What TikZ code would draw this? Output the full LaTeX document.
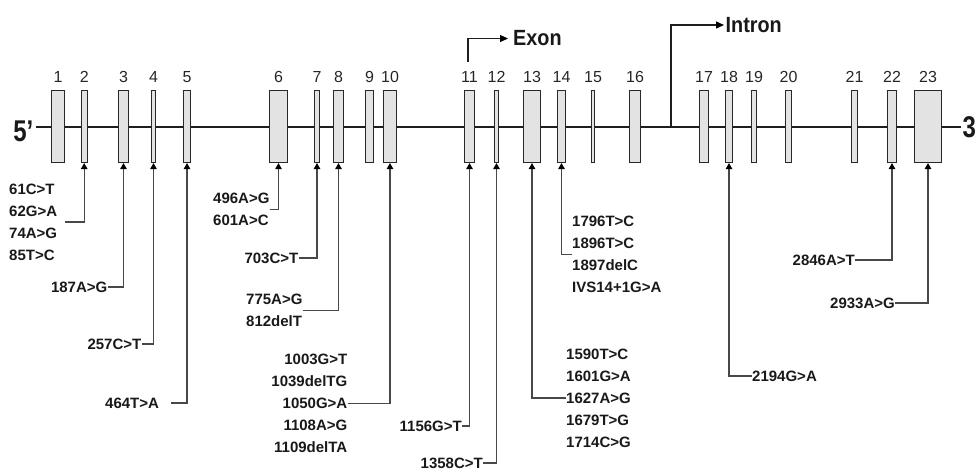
\documentclass[tikz,border=0pt]{standalone}
\usepackage{fontspec}
\usepackage{graphicx}
\setmainfont{Liberation Sans}
\usetikzlibrary{arrows.meta}
\definecolor{exonfill}{RGB}{226,227,226}
\definecolor{exonedge}{RGB}{40,40,40}
\definecolor{connc}{RGB}{72,72,72}
\definecolor{linec}{RGB}{30,30,30}
\tikzset{
  exonbox/.style={draw=exonedge, line width=1.1pt, fill=exonfill, rectangle, inner sep=0pt, minimum height=72pt},
  numlabel/.style={font=\fontsize{16}{16}\selectfont, inner sep=0pt, text=black!85},
  mutlabel/.style={font=\bfseries\fontsize{15}{22}\selectfont, inner sep=0pt, text=black!90},
  endlabel/.style={font=\bfseries\fontsize{30}{30}\selectfont, inner sep=0pt, text=black!90},
  biglabel/.style={font=\bfseries\fontsize{22}{22}\selectfont, inner sep=0pt, text=black!90},
  mainline/.style={draw=linec, line width=1.3pt},
  conn/.style={draw=connc, line width=1.2pt, -{Triangle[length=6pt,width=6.5pt,color=black]}},
  callout/.style={draw=linec, line width=1.3pt, -{Triangle[length=8pt,width=7pt,color=black]}}
}
\begin{document}
\begin{tikzpicture}[x=1pt,y=-1pt]
\useasboundingbox (0,0) rectangle (979,475);
% main gene line
\coordinate (L5) at (36,127);
\coordinate (L3) at (961,127);
\draw[mainline] (L5) -- (L3);
\node[endlabel, anchor=east] (five) at (33.5,131.5) {\scalebox{0.8}[1]{5’}};
\node[endlabel, anchor=west] (three) at (962.5,127) {\scalebox{0.8}[1]{3}};
% exons
\foreach \n/\x/\w in {1/58/13.5, 2/84.2/5.8, 3/123.5/10.5, 4/153.5/4.8, 5/187/7.5,
  6/278.5/18.5, 7/317/5.5, 8/338.5/10.5, 9/369.5/8.5, 10/390/13.5,
  11/469.5/10.5, 12/496.5/4.5, 13/532/17.5, 14/561.5/8.5, 15/593/3.8,
  16/635/11.5, 17/704/9.5, 18/729/7.5, 19/754/5.5, 20/788.5/6.5,
  21/854.5/6.5, 22/892/9.5, 23/928/27.5}{
  \node[exonbox, minimum width=\w*1pt] (e\n) at (\x,126.5) {};
  \node[numlabel] (n\n) at (\x,77) {\n};
}
% Exon / Intron callouts
\coordinate (exA) at (468,62);
\node[biglabel, anchor=west] (exon) at (513,38.5) {\scalebox{0.9}[1]{Exon}};
\draw[callout, shorten >=5pt] (exA) |- (exon.west);
\coordinate (inA) at (671,127);
\node[biglabel, anchor=west] (intron) at (725.5,25) {\scalebox{0.9}[1]{Intron}};
\draw[callout, shorten >=1.5pt] (inA) |- (intron.west);
% mutation labels
\node[mutlabel, align=left, anchor=west] (g2) at (9,222) {61C>T\\62G>A\\74A>G\\85T>C};
\draw[conn] ([xshift=8pt]g2.east) -| (e2.south);
\node[mutlabel, anchor=east] (m3) at (107.5,287) {187A>G};
\draw[conn] (m3.east) -| (e3.south);
\node[mutlabel, anchor=east] (m4) at (141.5,344) {257C>T};
\draw[conn] (m4.east) -| (e4.south);
\node[mutlabel, anchor=west] (m5) at (105,403) {464T>A};
\draw[conn] ([xshift=12pt]m5.east) -| (e5.south);
\node[mutlabel, align=left, anchor=west] (g6) at (213,209.5) {496A>G\\601A>C};
\draw[conn] (g6.east) -| (e6.south);
\node[mutlabel, anchor=east] (m7) at (298.5,258) {703C>T};
\draw[conn] (m7.east) -| (e7.south);
\node[mutlabel, align=left, anchor=west] (g8) at (246,310.5) {775A>G\\812delT};
\draw[conn] (g8.east) -| (e8.south);
\node[mutlabel, align=right, anchor=east] (g10) at (347.5,403.5) {1003G>T\\1039delTG\\1050G>A\\1108A>G\\1109delTA};
\draw[conn] (g10.east) -| (e10.south);
\node[mutlabel, anchor=east] (m11) at (462,426) {1156G>T};
\draw[conn] (m11.east) -| (e11.south);
\node[mutlabel, anchor=east] (m12) at (483,463) {1358C>T};
\draw[conn] (m12.east) -| (e12.south);
\node[mutlabel, align=left, anchor=west] (g13) at (566,398) {1590T>C\\1601G>A\\1627A>G\\1679T>G\\1714C>G};
\draw[conn] (g13.west) -| (e13.south);
\node[mutlabel, align=left, anchor=west] (g14) at (572,254.5) {1796T>C\\1896T>C\\1897delC\\IVS14+1G>A};
\draw[conn] (g14.west) -| (e14.south);
\node[mutlabel, anchor=west] (m18) at (752,376) {2194G>A};
\draw[conn] (m18.west) -| (e18.south);
\node[mutlabel, anchor=east] (m22) at (855,260) {2846A>T};
\draw[conn] (m22.east) -| (e22.south);
\node[mutlabel, anchor=east] (m23) at (895,303) {2933A>G};
\draw[conn] (m23.east) -| (e23.south);
\end{tikzpicture}
\end{document}
